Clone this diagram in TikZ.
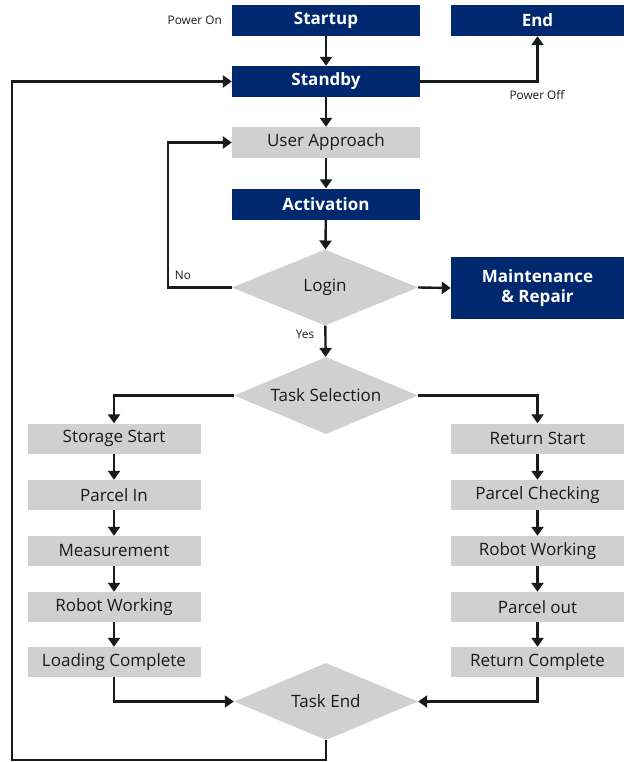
\documentclass[tikz,border=0pt]{standalone}
\usepackage{fontspec}
\setmainfont{Open Sans}
\usetikzlibrary{arrows.meta,shapes.geometric}
\definecolor{navy}{RGB}{0,40,110}
\definecolor{boxgray}{RGB}{208,208,208}
\definecolor{ink}{RGB}{26,26,26}
\tikzset{
  x=1pt,y=-1pt,
  darkbox/.style={fill=navy,text=white,font=\fontsize{17}{20}\selectfont\bfseries,
    minimum height=31pt,inner sep=0pt,align=center},
  lightbox/.style={fill=boxgray,text=ink,font=\fontsize{17}{20}\selectfont,
    minimum height=30pt,inner sep=0pt,align=center},
  wide/.style={minimum width=188pt},
  side/.style={minimum width=173pt},
  decision/.style={diamond,fill=boxgray,text=ink,font=\fontsize{17}{20}\selectfont,
    inner sep=0pt,aspect=2.45,minimum width=186pt,minimum height=76pt},
  flow/.style={draw=ink,line width=2.4pt,-{Triangle[length=9pt,width=12pt]}},
  tag/.style={font=\fontsize{11.8}{13}\selectfont,text=ink,inner sep=0pt}
}
\begin{document}
\begin{tikzpicture}
\useasboundingbox (0,0) rectangle (626,762);
% main column
\node[darkbox,wide] (startup) at (326,20.5) {Startup};
\node[darkbox,side] (end) at (537.5,20.5) {End};
\node[darkbox,wide] (standby) at (326,81.5) {Standby};
\node[lightbox,wide,minimum height=31pt] (approach) at (326,142.5) {User Approach};
\node[darkbox,wide] (activation) at (326,204) {Activation};
\node[decision] (login) at (325,287.5) {Login};
\node[darkbox,side,minimum height=62pt,font=\fontsize{17}{20.5}\selectfont\bfseries] (maint) at (537.5,288) {Maintenance\\\& Repair};
\node[decision,minimum height=77pt,minimum width=184pt] (select) at (326,395.5) {Task Selection};
% storage branch
\node[lightbox,side] (s1) at (114,438.5) {Storage Start};
\node[lightbox,side] (s2) at (114,495) {Parcel In};
\node[lightbox,side] (s3) at (114,551) {Measurement};
\node[lightbox,side] (s4) at (114,607) {Robot Working};
\node[lightbox,side] (s5) at (114,662) {Loading Complete};
% return branch
\node[lightbox,side] (r1) at (537.5,438.5) {Return Start};
\node[lightbox,side] (r2) at (537.5,495) {Parcel Checking};
\node[lightbox,side] (r3) at (537.5,551) {Robot Working};
\node[lightbox,side] (r4) at (537.5,607) {Parcel out};
\node[lightbox,side] (r5) at (537.5,662) {Return Complete};
\node[decision,minimum height=77pt,minimum width=184pt] (taskend) at (326,701.5) {Task End};
% labels
\node[tag,anchor=east] (pon) at (222,20) {Power On};
\node[tag] (poff) at (537,95.5) {Power Off};
\node[tag] (no) at (183,275.5) {No};
\node[tag] (yes) at (305,334.5) {Yes};
% corner point of the return loop
\coordinate (back) at (12,760);
% connectors
\draw[flow] (startup) -- (standby);
\draw[flow] (standby.east) -| (end.south);
\draw[flow] (standby) -- (approach);
\draw[flow] (approach) -- (activation);
\draw[flow] (activation) -- (login);
\draw[flow] (login.east) -- (maint.west);
\draw[flow] (login.west) -- (168,287.5) |- (approach.west);
\draw[flow] (login) -- (select);
\draw[flow] (select.west) -| (s1.north);
\draw[flow] (select.east) -| (r1.north);
\draw[flow] (s1) -- (s2);
\draw[flow] (s2) -- (s3);
\draw[flow] (s3) -- (s4);
\draw[flow] (s4) -- (s5);
\draw[flow] (r1) -- (r2);
\draw[flow] (r2) -- (r3);
\draw[flow] (r3) -- (r4);
\draw[flow] (r4) -- (r5);
\draw[flow] (s5.south) |- (taskend.west);
\draw[flow] (r5.south) |- (taskend.east);
\draw[flow] (taskend.south) |- (back) |- (standby.west);
\end{tikzpicture}
\end{document}
